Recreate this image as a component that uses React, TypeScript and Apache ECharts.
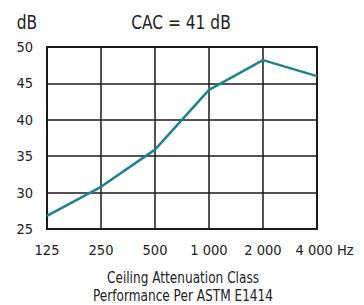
import React, { useEffect, useRef } from "react";
import * as echarts from "echarts";

const categories = ["125", "250", "500", "1 000", "2 000", "4 000"];
const values = [26.8, 30.8, 35.9, 44.1, 48.2, 46.0];
const yTicks = [25, 30, 35, 40, 45, 50];
const title = "CAC = 41 dB";
const unitY = "dB";
const unitX = "Hz";
const footer = ["Ceiling Attenuation Class", "Performance Per ASTM E1414"];

const FONT = "'Liberation Sans Narrow', 'DejaVu Sans Condensed', sans-serif";

export default function App() {
  const ref = useRef<HTMLDivElement>(null);
  useEffect(() => {
    if (!ref.current) return;
    const chart = echarts.init(ref.current, undefined, { renderer: "svg" });
    chart.setOption({
      animation: false,
      backgroundColor: "#ffffff",
      grid: { left: 47, right: 47, top: 47, height: 182 },
      xAxis: {
        type: "category",
        data: categories,
        boundaryGap: false,
        axisLine: { show: true, lineStyle: { color: "#1a1a1a", width: 2 } },
        axisTick: { show: false },
        splitLine: { show: true, interval: 0, lineStyle: { color: "#1a1a1a", width: 1.5 } },
        axisLabel: {
          interval: 0,
          hideOverlap: false,
          color: "#222",
          fontFamily: FONT,
          fontSize: 14.5,
          margin: 13,
          formatter: (v: string, i: number) =>
            i === categories.length - 1 ? `{hz|${v} ${unitX}}` : v,
          rich: {
            hz: { fontFamily: FONT, fontSize: 14.5, color: "#222", padding: [0, 0, 0, 15] },
          },
        },
      },
      yAxis: {
        type: "value",
        min: yTicks[0],
        max: yTicks[yTicks.length - 1],
        interval: 5,
        axisLine: { show: true, lineStyle: { color: "#1a1a1a", width: 2 } },
        axisTick: { show: false },
        splitLine: { show: true, lineStyle: { color: "#1a1a1a", width: 1.5 } },
        axisLabel: { color: "#222", fontFamily: FONT, fontSize: 14.5, margin: 14 },
      },
      graphic: [
        {
          type: "rect",
          shape: { x: 47, y: 47, width: 270, height: 182 },
          style: { fill: "none", stroke: "#1a1a1a", lineWidth: 2 },
          silent: true,
        },
        {
          type: "text",
          x: 27,
          y: 22,
          scaleX: 0.88,
          style: { text: unitY, font: `19.5px ${FONT}`, fill: "#222", align: "center", verticalAlign: "middle" },
        },
        {
          type: "text",
          x: 181,
          y: 22,
          scaleX: 0.88,
          style: { text: title, font: `19.5px ${FONT}`, fill: "#222", align: "center", verticalAlign: "middle" },
        },
        {
          type: "text",
          x: 183,
          y: 278,
          scaleX: 0.9,
          style: { text: footer[0], font: `15px ${FONT}`, fill: "#222", align: "center", verticalAlign: "middle" },
        },
        {
          type: "text",
          x: 183,
          y: 295.5,
          scaleX: 0.9,
          style: { text: footer[1], font: `15px ${FONT}`, fill: "#222", align: "center", verticalAlign: "middle" },
        },
      ],
      series: [
        {
          type: "line",
          data: values,
          symbol: "none",
          lineStyle: { color: "#1e8290", width: 2.5 },
          z: 5,
        },
      ],
    });
    return () => chart.dispose();
  }, []);
  return <div ref={ref} style={{ width: 364, height: 305, position: "absolute", left: 0, top: 0 }} />;
}
